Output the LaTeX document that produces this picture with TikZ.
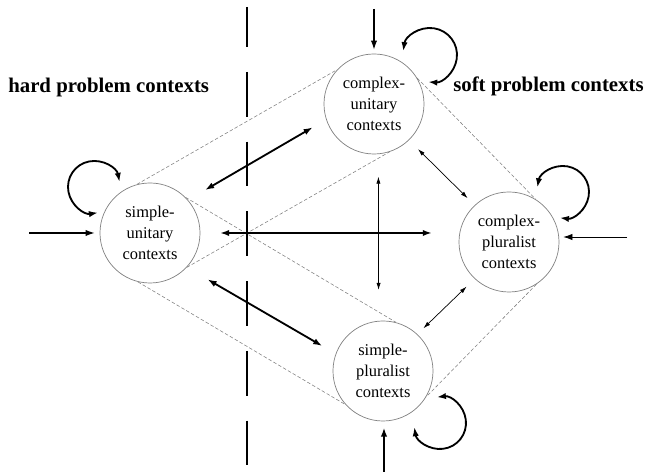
\documentclass[tikz,border=0pt]{standalone}
\usepackage{fontspec}
\setmainfont{Liberation Serif}
\usetikzlibrary{arrows.meta}
\begin{document}
\begin{tikzpicture}[x=0.025cm, y=0.025cm, >={Latex[length=6.5pt,width=4.5pt]}]
        \tikzstyle{ctx}=[circle, draw=gray, line width=0.5pt, minimum size=2.5cm, inner sep=0pt, align=center, text=black, font=\fontsize{11.7}{15}\selectfont];
        \tikzstyle{tangent}=[gray, line width=0.4pt, dash pattern=on 2.5pt off 1.5pt];
        \tikzstyle{heavy}=[<->, line width=1.3pt];
        \tikzstyle{light}=[{Latex[length=5pt,width=3pt]}-{Latex[length=5pt,width=3pt]}, line width=0.5pt];
        \tikzstyle{feed}=[->];
        \tikzstyle{selfloop}=[<->, line width=1.3pt];
        \tikzstyle{divider}=[line width=2.1pt, dash pattern=on 31.9pt off 17.7pt, dash phase=3.5pt];
        \tikzstyle{heading}=[anchor=base west, inner sep=0pt, font=\fontsize{14.8}{17}\selectfont\bfseries];
        \useasboundingbox (0,0) rectangle (647,472);

        \node[ctx] (su) at (150,239) {simple-\\unitary\\contexts};
        \node[ctx] (cu) at (374,368) {complex-\\unitary\\contexts};
        \node[ctx] (cp) at (509,230) {complex-\\pluralist\\contexts};
        \node[ctx] (sp) at (383,101) {simple-\\pluralist\\contexts};

        \node[heading] (hard) at (8,379) {hard problem contexts};
        \node[heading] (soft) at (453,380) {soft problem contexts};

        \draw[divider] (247,465) coordinate (top) -- (247,4) coordinate (bottom);

        \draw[tangent] (su.105) -- (cu.137);
        \draw[tangent] (cu.31) -- (cp.58);
        \draw[tangent] (cp.-57) -- (sp.-31);
        \draw[tangent] (su.-104) -- (sp.-138);
        \draw[tangent] (su.45) -- (sp.75);
        \draw[tangent] (su.-43) -- (cu.-72);

        \draw[heavy, shorten <=14pt, shorten >=11pt] (su.41) -- (cu.198);
        \draw[heavy, shorten <=17pt, shorten >=11pt] (su.-43) -- (sp.160);
        \draw[heavy, shorten <=14pt, shorten >=19pt] (su.east) -- (su.east -| cp.west);
        \draw[light, shorten <=16pt, shorten >=22pt] (cu.-85) -- (sp.95);
        \draw[light, shorten <=9pt, shorten >=7pt] (cu.-46) -- (cp.133);
        \draw[light, shorten <=6pt, shorten >=8pt] (sp.47) -- (cp.227);

        \coordinate (in su) at (29,239);
        \coordinate (in cu) at (374,463);
        \coordinate (in cp) at (627,235);
        \coordinate (in sp) at (384,0);
        \draw[feed, line width=0.9pt, shorten >=3.5pt] (in su) -- (su.west);
        \draw[feed, line width=0.9pt, shorten >=2.8pt] (in cu) -- (cu.north);
        \draw[feed, line width=0.5pt, shorten >=2.8pt] (in cp) -- (in cp -| cp.east);
        \draw[feed, line width=1.3pt, shorten >=4.3pt] (in sp) -- (in sp |- sp.south);

        \draw[selfloop] ([shift={(-56,46)}]su.center) ++(11:0.65cm) arc[start angle=11, end angle=279, radius=0.65cm];
        \draw[selfloop] ([shift={(56,49)}]cu.center) ++(172:0.675cm) arc[start angle=172, end angle=-94, radius=0.675cm];
        \draw[selfloop] ([shift={(54,50)}]cp.center) ++(170:0.65cm) arc[start angle=170, end angle=-97, radius=0.65cm];
        \draw[selfloop] ([shift={(57,-52)}]sp.center) ++(97:0.65cm) arc[start angle=97, end angle=-171, radius=0.65cm];
\end{tikzpicture}
\end{document}
